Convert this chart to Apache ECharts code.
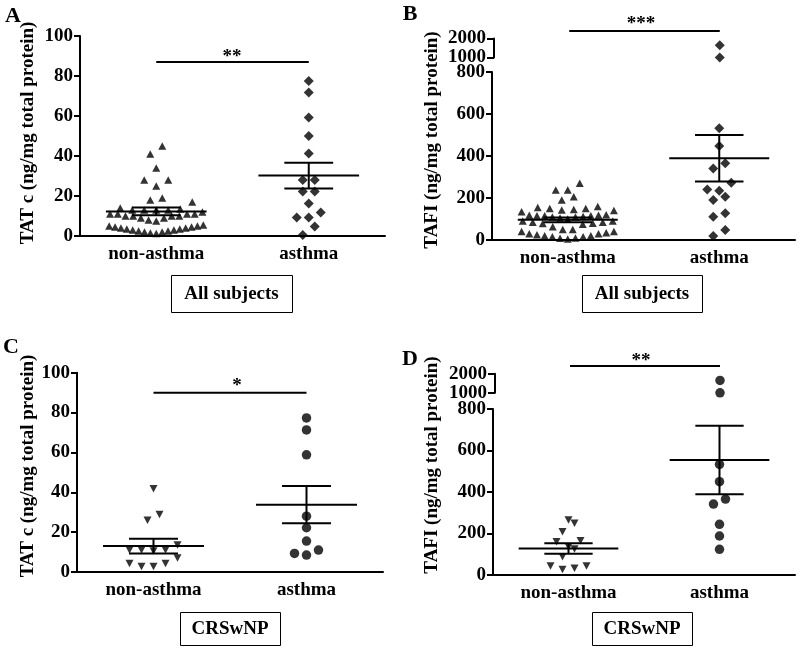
<!DOCTYPE html>
<html><head><meta charset="utf-8">
<script src="https://cdn.jsdelivr.net/npm/echarts@6/dist/echarts.min.js"></script>
<style>html,body{margin:0;padding:0;background:#fff}#c{width:800px;height:648px}</style>
</head><body><div id="c"></div><script>
// ---------- data ----------
const categories = ['non-asthma', 'asthma'];
const tatTicks = [0, 20, 40, 60, 80, 100];
const tafiLowTicks = [0, 200, 400, 600, 800];
const tafiHighTicks = [1000, 2000];

const tatAllNon = [45, 41, 34, 28, 28, 25, 19, 18, 17, 13, 13, 13, 13.5, 14, 13, 12,
  11, 11, 10, 10, 10, 9, 9, 10, 11, 11, 8, 7.5,
  5.5, 5, 5, 4.5, 4.5, 4, 4, 3.5, 1.3, 3.5, 3, 3, 2.5, 2.5, 2, 2, 1.5];
const tatAllAsthma = [77.5, 71.8, 59.2, 50, 41.3, 28, 28, 22.2, 22.2, 16.3, 11.7, 9.3, 9.3, 4.7, 0.5];
const tafiAllNon = [270, 238, 238, 206, 190, 160, 143, 150, 145, 140, 150, 155, 135,
  120, 115, 110, 118, 112, 115, 110, 118, 116, 105, 100, 90, 85, 80, 78, 75, 85, 90, 63,
  50, 40, 35, 30, 25, 20, 15, 10, 5, 8, 15, 20, 30, 40, 50];
const tafiAllAsthma = [1644, 1000, 532, 448, 365, 341, 273, 235, 241, 206, 190, 127, 111, 48, 19];
const tatCrsNon = [41.8, 28.8, 26, 11, 10.5, 11, 11, 13.5, 7, 4.3, 2.7, 2.7, 4.3];
const tatCrsAsthma = [77.3, 71.3, 58.8, 28, 22.2, 15.5, 11, 8.5, 9.3];
const tafiCrsNon = [265, 249, 209, 136, 160, 165, 125, 88, 43, 27, 32, 43];
const tafiCrsAsthma = [1652, 1000, 533, 450, 342, 366, 244, 188, 124];

const meanTatAll = [12.3, 30.2], semTatAll = [1.9, 6.4];
const meanTafiAll = [96, 389], semTafiAll = [11, 111];
const meanTatCrs = [13, 33.8], semTatCrs = [3.7, 9.3];
const meanTafiCrs = [128, 554], semTafiCrs = [25, 165];

const sigValues = [87, 2400, 90, 2410];
const sigStars = ['**', '***', '*', '**'];
const panelLetters = ['A', 'B', 'C', 'D'];
const yTitles = ['TAT c (ng/mg total protein)', 'TAFI (ng/mg total protein)', 'TAT c (ng/mg total protein)', 'TAFI (ng/mg total protein)'];
const groupNames = ['All subjects', 'All subjects', 'CRSwNP', 'CRSwNP'];
const BREAK = 800;

// ---------- layout / style ----------
const FF = "'Liberation Serif','Times New Roman',serif";
const panels = [
  { grid: {left: 80, top: 36, width: 305, height: 200}, ticks: tatTicks, non: tatAllNon, ast: tatAllAsthma,
    mean: meanTatAll, sem: semTatAll, nonSym: 'triangle', nonRot: 0, nonSize: [8, 7.5],
    astSym: 'diamond', astSize: [10, 10],
    letter: [13, 16], title: [28, 133], box: [171, 275, 121, 37], stars: [232, 57] },
  { grid: {left: 492, top: 72, width: 303, height: 168}, up: {left: 494, top: 38.5, width: 301, height: 19}, ticks: tafiLowTicks,
    non: tafiAllNon, ast: tafiAllAsthma, mean: meanTafiAll, sem: semTafiAll, nonSym: 'triangle', nonRot: 0, nonSize: [8, 7.5],
    astSym: 'diamond', astSize: [10, 10],
    letter: [410, 14], title: [432, 140], box: [582, 275, 120, 37], stars: [641, 24] },
  { grid: {left: 77, top: 372.7, width: 306, height: 199.3}, ticks: tatTicks, non: tatCrsNon, ast: tatCrsAsthma,
    mean: meanTatCrs, sem: semTatCrs, nonSym: 'triangle', nonRot: Math.PI, nonSize: [8, 7.5],
    astSym: 'circle', astSize: [9.5, 9.5],
    letter: [11, 347], title: [28, 466], box: [180, 612, 100, 33], stars: [237, 386] },
  { grid: {left: 493, top: 409, width: 302, height: 166}, up: {left: 495, top: 373.8, width: 300, height: 19}, ticks: tafiLowTicks,
    non: tafiCrsNon, ast: tafiCrsAsthma, mean: meanTafiCrs, sem: semTafiCrs, nonSym: 'triangle', nonRot: Math.PI, nonSize: [8, 7.5],
    astSym: 'circle', astSize: [9.5, 9.5],
    letter: [410, 359], title: [432, 465], box: [592, 612, 100, 33], stars: [641, 361] }
];
const ROW_H = 9;      // px, vertical extent of one row of points
const ROW_W = 100;    // px, max width of a row
const MAX_STEP = 12;  // px, max spacing of points in a row

const axisLineStyle = {color: '#000', width: 2};
const labelStyle = {color: '#000', fontFamily: FF, fontWeight: 'bold', fontSize: 19};

const grids = [], xAxes = [], yAxes = [], series = [], graphics = [];
const scatterRefs = [];

panels.forEach((p, k) => {
  const gLow = grids.length;
  grids.push(Object.assign({containLabel: false}, p.grid));
  const ticks = p.ticks;
  xAxes.push({gridIndex: gLow, type: 'category', data: categories,
    axisLine: {lineStyle: axisLineStyle}, axisTick: {alignWithLabel: true, length: 6, lineStyle: axisLineStyle},
    axisLabel: Object.assign({margin: 9}, labelStyle), splitLine: {show: false}});
  yAxes.push({gridIndex: gLow, type: 'value', min: ticks[0], max: ticks[ticks.length - 1], interval: ticks[1] - ticks[0],
    axisLine: {show: true, lineStyle: axisLineStyle}, axisTick: {show: true, length: 6, lineStyle: axisLineStyle},
    axisLabel: Object.assign({margin: 7, formatter: v => String(v), showMinLabel: true, showMaxLabel: true}, labelStyle), splitLine: {show: false}});
  let gUp = null;
  if (p.up) {
    gUp = grids.length;
    grids.push(Object.assign({containLabel: false}, p.up));
    xAxes.push({gridIndex: gUp, type: 'category', data: categories, show: false});
    yAxes.push({gridIndex: gUp, type: 'value', min: tafiHighTicks[0], max: tafiHighTicks[1], interval: tafiHighTicks[1] - tafiHighTicks[0],
      axisLine: {show: true, lineStyle: axisLineStyle},
      axisTick: {show: true, length: 7, lineStyle: axisLineStyle, customValues: tafiHighTicks},
      axisLabel: Object.assign({margin: 8, formatter: v => String(v), customValues: tafiHighTicks, hideOverlap: false}, labelStyle, {lineHeight: 12}),
      splitLine: {show: false}});
  }
  const groups = [
    {cat: 0, vals: p.non, sym: p.nonSym, rot: p.nonRot, size: p.nonSize},
    {cat: 1, vals: p.ast, sym: p.astSym, rot: 0, size: p.astSize}
  ];
  groups.forEach(gr => {
    const parts = [{g: gLow, vals: p.up ? gr.vals.filter(v => v <= BREAK) : gr.vals}];
    if (p.up) parts.push({g: gUp, vals: gr.vals.filter(v => v > BREAK)});
    const ref = {panel: k, cat: gr.cat, parts: []};
    parts.forEach(pt => {
      if (!pt.vals.length) return;
      ref.parts.push({seriesIdx: series.length, g: pt.g, vals: pt.vals});
      series.push({type: 'scatter', xAxisIndex: pt.g, yAxisIndex: pt.g, symbol: gr.sym, symbolRotate: gr.rot * 180 / Math.PI,
        symbolSize: gr.size, itemStyle: {color: '#000'}, clip: false, z: 3,
        data: pt.vals.map(v => ({value: [gr.cat, v]}))});
    });
    scatterRefs.push(ref);
  });
  series.push({type: 'custom', xAxisIndex: gLow, yAxisIndex: gLow, z: 4,
    data: p.mean.map((m, i) => [i, m, p.sem[i]]),
    renderItem: function (params, api) {
      const x = api.value(0), m = api.value(1), s = api.value(2);
      const c = api.coord([x, m]), hi = api.coord([x, m + s]), lo = api.coord([x, m - s]);
      const band = api.size([1, 0])[0];
      const hm = band * 0.33, hs = band * 0.16;
      const st = {stroke: '#000', lineWidth: 2};
      return {type: 'group', children: [
        {type: 'line', shape: {x1: c[0] - hm, y1: c[1], x2: c[0] + hm, y2: c[1]}, style: st},
        {type: 'line', shape: {x1: c[0] - hs, y1: hi[1], x2: c[0] + hs, y2: hi[1]}, style: st},
        {type: 'line', shape: {x1: c[0] - hs, y1: lo[1], x2: c[0] + hs, y2: lo[1]}, style: st},
        {type: 'line', shape: {x1: c[0], y1: hi[1], x2: c[0], y2: lo[1]}, style: st}
      ]};
    }});
  const gs = p.up ? gUp : gLow;
  series.push({type: 'line', xAxisIndex: gs, yAxisIndex: gs, clip: false, symbol: 'none', silent: true,
    lineStyle: {color: '#000', width: 2}, data: [[0, sigValues[k]], [1, sigValues[k]]]});

  const tstyle = (txt, size) => ({text: txt, fill: '#000', font: 'bold ' + size + 'px ' + FF,
    align: 'center', verticalAlign: 'middle', textAlign: 'center', textVerticalAlign: 'middle'});
  graphics.push({type: 'text', x: p.letter[0], y: p.letter[1], style: tstyle(panelLetters[k], 22)});
  graphics.push({type: 'text', x: p.title[0], y: p.title[1], rotation: Math.PI / 2, style: tstyle(yTitles[k], 19)});
  graphics.push({type: 'rect', shape: {x: p.box[0] + 0.5, y: p.box[1] + 0.5, width: p.box[2], height: p.box[3]},
    style: {fill: 'none', stroke: '#000', lineWidth: 1}});
  graphics.push({type: 'text', x: p.box[0] + p.box[2] / 2, y: p.box[1] + p.box[3] / 2 + 1, style: tstyle(groupNames[k], 19)});
  graphics.push({type: 'text', x: p.stars[0], y: p.stars[1], style: tstyle(sigStars[k], 19)});
});

const chart = echarts.init(document.getElementById('c'), null, {renderer: 'canvas'});
chart.setOption({backgroundColor: '#fff', animation: false, grid: grids, xAxis: xAxes, yAxis: yAxes, series: series, graphic: graphics});

// Prism-like row layout: points are grouped in rows by pixel height (from the axes),
// each row spread horizontally around the category centre, lowest values in the middle.
function rowLayout(ys) {
  const order = ys.map((y, i) => i).sort((a, b) => ys[b] - ys[a]); // bottom first
  const xs = new Array(ys.length);
  let i = 0;
  while (i < order.length) {
    const start = ys[order[i]];
    const row = [];
    while (i < order.length && start - ys[order[i]] <= ROW_H) { row.push(order[i]); i++; }
    const n = row.length;
    const step = Math.min(MAX_STEP, ROW_W / n);
    const slots = [];
    for (let s = 0; s < n; s++) slots.push((s - (n - 1) / 2) * step);
    slots.sort((a, b) => Math.abs(a) - Math.abs(b) || a - b);
    row.forEach((idx, r) => { xs[idx] = slots[r]; });
  }
  return xs;
}
scatterRefs.forEach(ref => {
  const ys = [], map = [];
  ref.parts.forEach(pt => pt.vals.forEach((v, j) => {
    ys.push(chart.convertToPixel({gridIndex: pt.g}, [ref.cat, v])[1]); map.push([pt.seriesIdx, j]);
  }));
  const xs = rowLayout(ys);
  map.forEach((m, i) => { series[m[0]].data[m[1]].symbolOffset = [xs[i], 0]; });
});
chart.setOption({series: series});
</script></body></html>
